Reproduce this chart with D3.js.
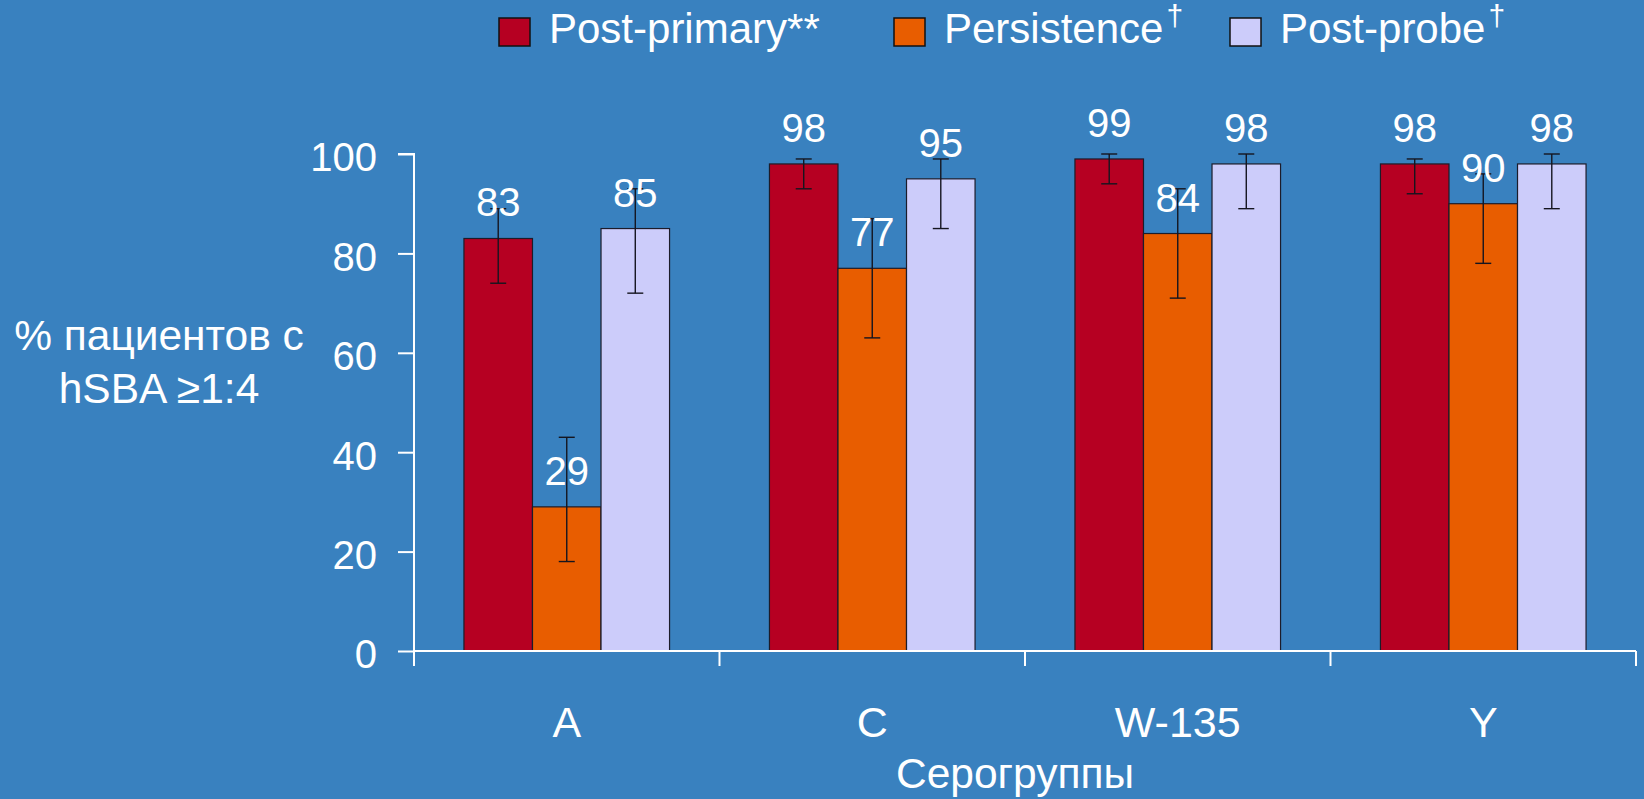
<!DOCTYPE html>
<html>
<head>
<meta charset="utf-8">
<script src="https://cdn.jsdelivr.net/npm/d3@7"></script>
<style>
  html, body { margin: 0; padding: 0; background: #3981BF; }
  svg { display: block; font-family: "Liberation Sans", Arial, sans-serif; }
</style>
</head>
<body>
<svg id="chart" width="1644" height="799"></svg>
<script>
// ---- data ----
const categories = ["A", "C", "W-135", "Y"];
const seriesNames = ["Post-primary**", "Persistence", "Post-probe"];
const seriesSup = ["", "†", "†"];
const postPrimary = [83, 98, 99, 98];
const persistence = [29, 77, 84, 90];
const postProbe   = [85, 95, 98, 98];
const postPrimaryLow  = [74, 93, 94, 92];
const postPrimaryHigh = [89, 99, 100, 99];
const persistenceLow  = [18, 63, 71, 78];
const persistenceHigh = [43, 87, 93, 96];
const postProbeLow    = [72, 85, 89, 89];
const postProbeHigh   = [93, 99, 100, 100];
const yTicks = [0, 20, 40, 60, 80, 100];
const yLabelLines = ["% пациентов с", "hSBA ≥1:4"];
const xTitle = "Серогруппы";

const colors = ["#B60022", "#E85D00", "#CCCCFA"];

(function () {
const series = [
  { values: postPrimary, low: postPrimaryLow, high: postPrimaryHigh },
  { values: persistence, low: persistenceLow, high: persistenceHigh },
  { values: postProbe,   low: postProbeLow,   high: postProbeHigh }
];

const svg = d3.select("#chart");
const pLeft = 414, pRight = 1636, pTop = 154, pBottom = 651;

const x = d3.scaleBand().domain(categories).range([pLeft, pRight])
  .paddingInner(0.327).paddingOuter(0.1635);
const xs = d3.scaleBand().domain([0, 1, 2]).range([0, x.bandwidth()]);
const y = d3.scaleLinear().domain([0, 100]).range([pBottom, pTop]);

const rows = [];
categories.forEach((c, i) => {
  series.forEach((s, k) => {
    rows.push({ cat: c, k, v: s.values[i], lo: s.low[i], hi: s.high[i] });
  });
});

// bars
svg.append("g").selectAll("rect").data(rows).join("rect")
  .attr("x", d => x(d.cat) + xs(d.k))
  .attr("y", d => y(d.v))
  .attr("width", xs.bandwidth())
  .attr("height", d => y(0) - y(d.v))
  .attr("fill", d => colors[d.k])
  .attr("stroke", "#1c1c2a")
  .attr("stroke-width", 1.2);

// error bars
const eb = svg.append("g").attr("stroke", "#15151f").attr("stroke-width", 1.4);
rows.forEach(d => {
  const cx = x(d.cat) + xs(d.k) + xs.bandwidth() / 2;
  eb.append("line").attr("x1", cx).attr("x2", cx).attr("y1", y(d.hi)).attr("y2", y(d.lo));
  eb.append("line").attr("x1", cx - 8).attr("x2", cx + 8).attr("y1", y(d.hi)).attr("y2", y(d.hi));
  eb.append("line").attr("x1", cx - 8).attr("x2", cx + 8).attr("y1", y(d.lo)).attr("y2", y(d.lo));
});

// value labels
svg.append("g").selectAll("text").data(rows).join("text")
  .attr("x", d => x(d.cat) + xs(d.k) + xs.bandwidth() / 2)
  .attr("y", d => y(d.v) - 22)
  .attr("text-anchor", "middle")
  .attr("fill", "#fff")
  .attr("font-size", 40)
  .text(d => d.v);

// y axis
const yAxis = svg.append("g").attr("transform", `translate(${pLeft},0)`)
  .call(d3.axisLeft(y).tickValues(yTicks).tickSize(16).tickPadding(21));
yAxis.select(".domain").attr("stroke", "#fff").attr("stroke-width", 2).attr("d", `M-16,${pTop}H0V${pBottom}`);
yAxis.selectAll(".tick line").attr("stroke", "#fff").attr("stroke-width", 2);
yAxis.selectAll(".tick text").attr("fill", "#fff").attr("font-size", 40)
  .attr("dy", "0.42em")
  .attr("font-family", "Liberation Sans, Arial, sans-serif");

// x axis
const xAxis = svg.append("g").attr("transform", `translate(0,${pBottom})`)
  .call(d3.axisBottom(x).tickSize(0).tickPadding(55));
xAxis.select(".domain").attr("stroke", "#fff").attr("stroke-width", 2).attr("d", `M${pLeft},0H${pRight}`);
xAxis.selectAll(".tick text").attr("fill", "#fff").attr("font-size", 43)
  .attr("font-family", "Liberation Sans, Arial, sans-serif");
const bounds = categories.map(c => x(c) - (x.step() - x.bandwidth()) / 2).concat([pRight]);
xAxis.append("g").selectAll("line").data(bounds).join("line")
  .attr("x1", d => d).attr("x2", d => d).attr("y1", 0).attr("y2", 15)
  .attr("stroke", "#fff").attr("stroke-width", 2);

// x title
svg.append("text").attr("x", 1015).attr("y", 788).attr("text-anchor", "middle")
  .attr("fill", "#fff").attr("font-size", 42.5).text(xTitle);

// y title
svg.append("g").selectAll("text").data(yLabelLines).join("text")
  .attr("x", 159).attr("y", (d, i) => 350 + i * 53)
  .attr("text-anchor", "middle").attr("fill", "#fff").attr("font-size", 42.5)
  .text(d => d);

// legend
const legX = [499, 894, 1230];
const lg = svg.append("g");
seriesNames.forEach((n, k) => {
  lg.append("rect").attr("x", legX[k]).attr("y", 18).attr("width", 31).attr("height", 28)
    .attr("fill", colors[k]).attr("stroke", "#111").attr("stroke-width", 1.5);
  const t = lg.append("text").attr("x", legX[k] + 50).attr("y", 43)
    .attr("fill", "#fff").attr("font-size", 42).text(n);
  if (seriesSup[k]) {
    t.append("tspan").attr("font-size", 30).attr("dx", 3).attr("dy", -17).text(seriesSup[k]);
  }
});
})();
</script>
</body>
</html>
